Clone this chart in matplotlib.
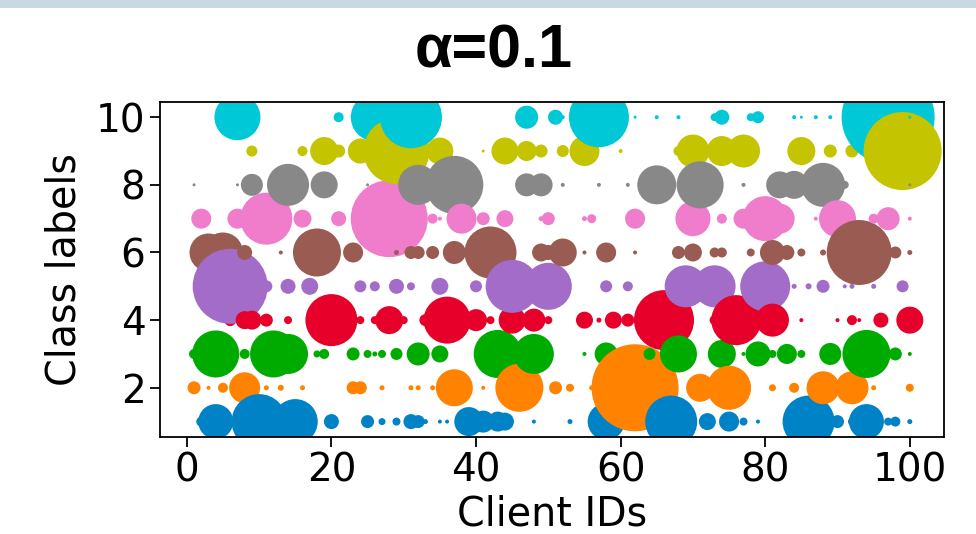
import matplotlib
matplotlib.use("Agg")
import matplotlib.pyplot as plt
from matplotlib.patches import Rectangle

# ---- data: client ids and bubble diameters (px) per class ----
c1_ids = [2, 4, 10, 15, 20, 25, 27, 29, 31, 32, 33, 35, 36, 39, 41, 43, 44, 48, 53, 58, 67, 72, 75, 77, 79, 86, 90, 92, 94, 97, 98, 100]
c1_d = [10, 35, 55, 45, 15, 13, 7, 8, 15, 13, 5, 4, 4, 29, 22, 20, 18, 4, 5, 37, 52, 17, 20, 8, 4, 52, 13, 8, 35, 8, 10, 5]

c2_ids = [1, 3, 5, 8, 11, 13, 16, 23, 24, 27, 31, 32, 34, 37, 41, 46, 51, 53, 56, 62, 71, 75, 81, 84, 88, 92, 95, 100]
c2_d = [13, 4, 10, 31, 5, 6, 5, 13, 13, 5, 5, 5, 5, 37, 4, 48, 13, 8, 5, 87, 28, 44, 7, 10, 33, 33, 5, 8]

c3_ids = [1, 4, 8, 12, 14, 18, 19, 23, 25, 26, 27, 29, 32, 35, 43, 48, 55, 58, 64, 68, 74, 77, 79, 81, 83, 85, 89, 94, 98, 100]
c3_d = [10, 47, 10, 47, 40, 7, 10, 13, 8, 5, 8, 12, 23, 17, 48, 40, 4, 23, 12, 37, 28, 4, 25, 8, 20, 8, 22, 48, 13, 4]

c4_ids = [6, 8, 9, 11, 14, 20, 24, 26, 28, 30, 33, 36, 40, 42, 45, 48, 50, 55, 57, 59, 61, 66, 73, 76, 81, 85, 90, 92, 93, 96, 100]
c4_d = [12, 18, 19, 13, 8, 52, 8, 8, 28, 8, 12, 47, 22, 8, 27, 23, 8, 17, 5, 17, 13, 60, 10, 50, 33, 4, 4, 10, 4, 15, 27]

c5_ids = [6, 11, 14, 17, 24, 26, 29, 31, 35, 40, 45, 50, 58, 61, 69, 73, 80, 84, 86, 88, 91, 92, 95, 99]
c5_d = [75, 12, 15, 17, 12, 10, 15, 8, 17, 12, 53, 47, 12, 10, 42, 42, 50, 5, 6, 13, 4, 5, 5, 12]

c6_ids = [3, 5, 8, 13, 18, 23, 29, 31, 32, 34, 37, 42, 49, 50, 52, 55, 58, 62, 68, 70, 73, 74, 78, 81, 83, 85, 88, 93, 98, 100]
c6_d = [38, 40, 15, 4, 48, 20, 5, 13, 13, 13, 23, 52, 18, 15, 28, 4, 20, 4, 13, 18, 10, 10, 8, 25, 15, 8, 6, 65, 12, 5]

c7_ids = [2, 7, 11, 16, 21, 28, 34, 35, 38, 41, 44, 49, 50, 55, 56, 62, 70, 74, 77, 80, 82, 87, 90, 95, 97, 100]
c7_d = [20, 20, 52, 18, 15, 77, 10, 4, 30, 13, 17, 5, 13, 5, 9, 20, 35, 10, 20, 45, 30, 4, 37, 10, 23, 4]

c8_ids = [1, 7, 9, 14, 19, 25, 32, 37, 47, 49, 52, 57, 61, 65, 71, 77, 82, 84, 88, 91, 100]
c8_d = [3, 3, 22, 42, 27, 3, 40, 58, 23, 23, 4, 4, 4, 39, 47, 4, 27, 28, 44, 8, 3]

c9_ids = [9, 16, 19, 21, 24, 29, 35, 41, 44, 47, 49, 52, 55, 60, 68, 70, 74, 77, 85, 89, 92, 99]
c9_d = [11, 10, 28, 13, 25, 66, 27, 3, 27, 20, 13, 12, 30, 4, 10, 33, 30, 33, 28, 13, 13, 78]

c10_ids = [7, 21, 26, 31, 47, 51, 52, 57, 62, 65, 68, 73, 74, 78, 79, 84, 85, 87, 89, 97, 100]
c10_d = [46, 10, 48, 62, 23, 15, 4, 60, 3, 4, 4, 8, 15, 8, 12, 4, 3, 4, 4, 93, 3]

class_colors = ["#0082c6", "#ff8200", "#00ab00", "#e6002a", "#a36cc8",
                "#9a5c52", "#f07ccc", "#888888", "#c4c400", "#00c8d6"]

x_ticks = [0, 20, 40, 60, 80, 100]
y_ticks = [2, 4, 6, 8, 10]

series = [(c1_ids, c1_d), (c2_ids, c2_d), (c3_ids, c3_d), (c4_ids, c4_d), (c5_ids, c5_d),
          (c6_ids, c6_d), (c7_ids, c7_d), (c8_ids, c8_d), (c9_ids, c9_d), (c10_ids, c10_d)]

pts = []
for k, (ids, ds) in enumerate(series):
    for i, d in zip(ids, ds):
        pts.append((i, k + 1, d, class_colors[k]))
pts.sort(key=lambda p: (p[0], p[1]))  # drawn client by client

fig = plt.figure(figsize=(9.76, 5.34), dpi=100)
ax = fig.add_axes([0.164, 0.182, 0.803, 0.627])

ax.scatter([p[0] for p in pts], [p[1] for p in pts],
           s=[(p[2] * 0.72) ** 2 for p in pts],
           c=[p[3] for p in pts], linewidths=0)

ax.set_xlim(-3.7, 104.7)
ax.set_ylim(0.55, 10.45)
ax.set_xticks(x_ticks)
ax.set_yticks(y_ticks)
ax.tick_params(labelsize=28, length=7, width=1.3)
for sp in ax.spines.values():
    sp.set_linewidth(1.3)
ax.set_xlabel("Client IDs", fontsize=28.5, labelpad=4)
ax.set_ylabel("Class labels", fontsize=28.5, labelpad=8)

fig.text(0.506, 0.903, "α=0.1", fontsize=44, fontweight="bold",
         family=["Liberation Sans", "DejaVu Sans"], ha="center", va="center")

fig.add_artist(Rectangle((0, 1 - 8 / 534), 1, 8 / 534, transform=fig.transFigure,
                         facecolor="#c9d9e2", edgecolor="none"))

fig.savefig("out.png", dpi=100)
